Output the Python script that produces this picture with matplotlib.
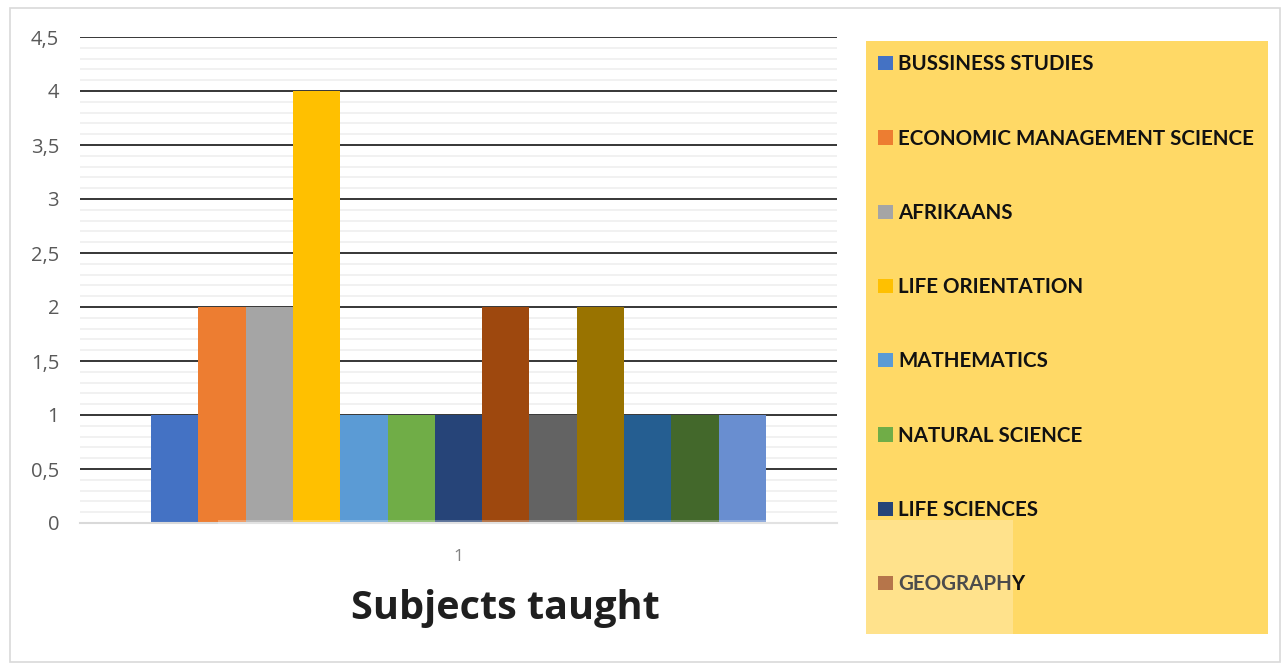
import matplotlib
matplotlib.use('Agg')
import matplotlib.pyplot as plt
from matplotlib.patches import Rectangle, Patch
from matplotlib.ticker import MultipleLocator, FuncFormatter

subjects = ['BUSSINESS STUDIES', 'ECONOMIC MANAGEMENT SCIENCE', 'AFRIKAANS',
            'LIFE ORIENTATION', 'MATHEMATICS', 'NATURAL SCIENCE',
            'LIFE SCIENCES', 'GEOGRAPHY', 'HISTORY', 'ENGLISH',
            'ISIXHOSA', 'TECHNOLOGY', 'CREATIVE ARTS']
counts = [1, 2, 2, 4, 1, 1, 1, 2, 1, 2, 1, 1, 1]
colors = ['#4472C4', '#ED7D31', '#A5A5A5', '#FFC000', '#5B9BD5', '#70AD47',
          '#264478', '#9E480E', '#636363', '#997300', '#255E91', '#43682B',
          '#698ED0']
category = '1'
n_legend_shown = 8   # the rest is cut off in the original legend box

W, H = 1285, 663
fig = plt.figure(figsize=(W / 100, H / 100), dpi=100)
fig.patch.set_facecolor('white')

# ── axes ──────────────────────────────────────────────────────────────────────
ax = fig.add_axes([80 / W, 1 - 523 / H, (837 - 80) / W, (523 - 37) / H])
xs = range(len(counts))
bars = ax.bar(xs, counts, width=1.0, color=colors, zorder=3)
ax.set_xlim(-2, len(counts) + 1)
ax.set_ylim(0, 4.5)

ax.yaxis.set_major_locator(MultipleLocator(0.5))
ax.yaxis.set_minor_locator(MultipleLocator(0.1))
ax.yaxis.set_major_formatter(FuncFormatter(lambda v, p: f'{v:g}'.replace('.', ',')))
ax.grid(axis='y', which='minor', color='#EFEFEF', linewidth=1.2, zorder=0)
ax.grid(axis='y', which='major', color='#262626', linewidth=1.3, zorder=1)
ax.tick_params(axis='y', which='both', length=0, pad=15, labelsize=14.5,
               labelcolor='#595959')
ax.set_xticks([(len(counts) - 1) / 2])
ax.set_xticklabels([category])
ax.tick_params(axis='x', length=0, pad=19, labelsize=12.5, labelcolor='#595959')
for s in ['top', 'right', 'left']:
    ax.spines[s].set_visible(False)
ax.spines['bottom'].set_color('#D9D9D9')
ax.spines['bottom'].set_linewidth(1.5)
ax.spines['bottom'].set_zorder(4)
for lab in ax.get_yticklabels() + ax.get_xticklabels():
    lab.set_family('Open Sans')

fig.text(505 / W, 1 - 608 / H, 'Subjects taught', ha='center', va='center',
         fontsize=28.5, fontweight='bold', family='Open Sans', color='#1f1f1f',
         zorder=7)

# ── legend on yellow box ──────────────────────────────────────────────────────
fig.add_artist(Rectangle((866 / W, 1 - 634 / H), (1268 - 866) / W, (634 - 41) / H,
                         transform=fig.transFigure, facecolor='#FFD966',
                         edgecolor='none', zorder=1))
handles = [Patch(facecolor=c) for c in colors[:n_legend_shown]]
leg = fig.legend(handles, subjects[:n_legend_shown], loc='upper left',
                 bbox_to_anchor=(864 / W, 1 - 40 / H), frameon=False,
                 prop={'family': 'Lato', 'weight': 'bold', 'size': 14.8},
                 handlelength=0.7, handleheight=0.7, handletextpad=0.25,
                 labelspacing=2.64, borderpad=0.2)
for t in leg.get_texts():
    t.set_color('#111111')
leg.set_zorder(2)

# faint watermark wash over the lower middle
fig.add_artist(Rectangle((218 / W, 0), (1013 - 218) / W, (663 - 520) / H,
                         transform=fig.transFigure, facecolor='white',
                         edgecolor='none', alpha=0.25, zorder=5))

# outer chart border
fig.add_artist(Rectangle((10 / W, 1 / H), (1280 - 10) / W, (655 - 1) / H,
                         transform=fig.transFigure, facecolor='none',
                         edgecolor='#D9D9D9', linewidth=1.2, zorder=6))

fig.savefig('out.png', dpi=100)
